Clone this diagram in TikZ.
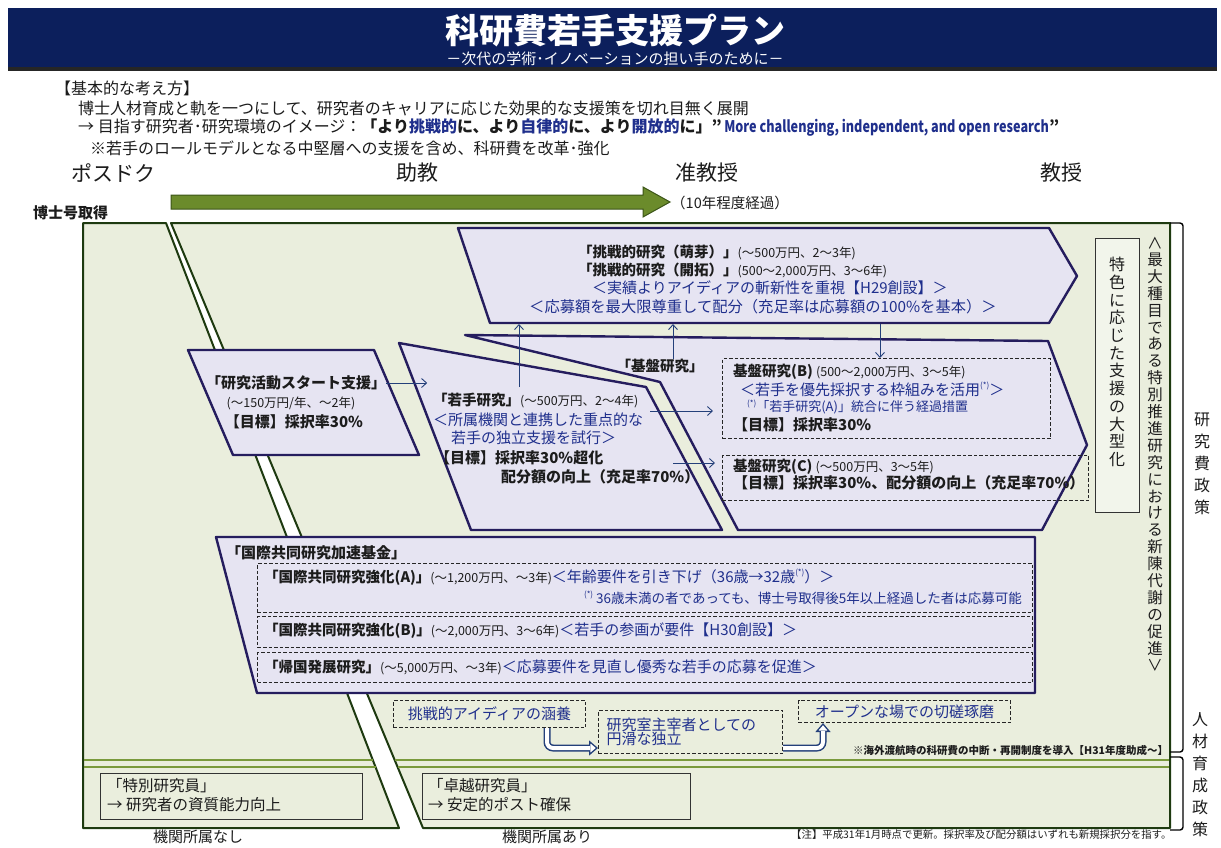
\documentclass[tikz,border=0pt]{standalone}
\usepackage{fontspec}
\setmainfont{Noto Sans CJK JP}
\usetikzlibrary{arrows.meta,calc}
\definecolor{banner}{HTML}{0C1F5C}
\definecolor{lav}{HTML}{E6E4F2}
\definecolor{pborder}{HTML}{251D5E}
\definecolor{bggreen}{HTML}{EAEEDD}
\definecolor{dgreen}{HTML}{1E3A10}
\definecolor{olive}{HTML}{7A9A3C}
\definecolor{arrowgreen}{HTML}{6B8B2B}
\definecolor{arrowedge}{HTML}{3C5518}
\definecolor{navytext}{HTML}{1F2F8C}
\definecolor{txt}{HTML}{1C1C1C}
\definecolor{arrnavy}{HTML}{24407A}
\newcommand{\fz}[1]{\fontsize{#1}{#1}\selectfont}
\newcommand{\hb}[1]{{\bfseries #1}}
\newcommand{\ps}[1]{{\fz{12.5}#1}}
\newcommand{\nv}[1]{{\color{navytext}#1}}
\newcommand{\supast}{\raisebox{0.45em}{\fz{8}(*)}}
\newcommand{\vbr}[1]{\rotatebox[origin=c]{-90}{#1}}
\tikzset{
  lbl/.style={anchor=west, inner sep=0pt, text=txt},
  pshape/.style={draw=pborder, line width=2.4pt, fill=lav, line join=round},
  panel/.style={draw=dgreen, line width=2pt, fill=bggreen, line join=round},
  dbox/.style={draw=black!85, line width=1pt, dash pattern=on 3.5pt off 2pt, inner sep=0pt},
  sbox/.style={draw=black!80, line width=0.9pt, inner sep=0pt},
  gline/.style={draw=olive, line width=2.5pt},
  thinarr/.style={draw=arrnavy, line width=0.9pt, -{Straight Barb[length=5pt,width=9pt]}},
  vtxt/.style={align=center, inner sep=0pt, text=txt},
  blockarr/.style={draw=arrnavy, line width=7pt, rounded corners=6pt, -{Triangle[length=9pt,width=15pt,fill=white,line width=1.3pt]}},
  blockin/.style={draw=white, line width=4pt, rounded corners=6pt, shorten >=8pt},
}
\begin{document}
\begin{tikzpicture}[x=1pt,y=-1pt]
\useasboundingbox (0,0) rectangle (1221,847);
\fill[white] (0,0) rectangle (1221,847);
% banner
\fill[banner] (8,8) rectangle (1217,70);
\fill[black!85] (8,67) rectangle (1217,71);
\node[text=white] (title) at (615,31) {\fz{34}\bfseries 科研費若手支援プラン};
\node[text=white] (subtitle) at (615,59) {\fz{15}－次代の学術･イノベーションの担い手のために－};
% header
\node[lbl] (h1) at (55,88) {\fz{16}【基本的な考え方】};
\node[lbl] (h2) at (78,108) {\fz{16}博士人材育成と軌を一つにして、研究者のキャリアに応じた効果的な支援策を切れ目無く展開};
\node[lbl] (h3) at (78,128) {\fz{16}→\ 目指す研究者･研究環境のイメージ：\hb{「より\nv{挑戦的}に、より\nv{自律的}に、より\nv{開放的}に」}\hb{”}\,\scalebox{0.79}[1]{\nv{\bfseries More challenging, independent, and open research}}\hb{”}};
\node[lbl] (h4) at (90,148) {\fz{16}※若手のロールモデルとなる中堅層への支援を含め、科研費を改革･強化};
% stages
\node[text=txt] (pd) at (113,173) {\fz{21}ポスドク};
\node[text=txt] (jk) at (417,173) {\fz{21}助教};
\node[text=txt] (jkj) at (707,173) {\fz{21}准教授};
\node[text=txt] (kj) at (1061,173) {\fz{21}教授};
\node[lbl] (hakushi) at (33,213) {\fz{15}\bfseries 博士号取得};
\filldraw[fill=arrowgreen, draw=arrowedge, line width=1pt] (171,195) -- (643,195) -- (643,187) -- (670,202) -- (643,217) -- (643,209) -- (171,209) -- cycle;
\node[lbl] (ten) at (671,203) {\fz{14.5}（10年程度経過）};
% panels
\path[panel] (83,223) -- (166,223) -- (399,828) -- (83,828) -- cycle;
\path[panel] (171,223) -- (1170,223) -- (1170,828) -- (423,828) -- cycle;
\draw[gline] (84,760) -- (373,760);
\draw[gline] (84,767) -- (376,767);
\draw[gline] (395,760) -- (1169,760);
\draw[gline] (398,767) -- (1169,767);
% brackets
\draw[black, line width=1.4pt, rounded corners=3pt] (1170,223) -- (1183,223) -- (1183,752) -- (1170,752);
\draw[black, line width=1.4pt, rounded corners=3pt] (1170,757) -- (1183,757) -- (1183,830) -- (1170,830);
% shapes
\path[pshape] (458,228) -- (1049,228) -- (1077,276) -- (1049,323) -- (490,323) -- cycle;
\path[pshape] (465,335) -- (1048,341) -- (1087,445) -- (1042,530) -- (738,530) -- (660,382) -- cycle;
\path[pshape] (399,343) -- (646,387) -- (722,530) -- (471,530) -- cycle;
\path[pshape] (188,350) -- (374,350) -- (419,455) -- (233,455) -- cycle;
\path[pshape] (216,537) -- (1035,537) -- (1035,693) -- (257,693) -- cycle;
% challenge text
\node[lbl] (ch1) at (578,252) {\fz{14.5}\hb{「挑戦的研究（萌芽）」}\ps{(～500万円、2～3年)}};
\node[lbl] (ch2) at (578,270) {\fz{14.5}\hb{「挑戦的研究（開拓）」}\ps{(500～2,000万円、3～6年)}};
\node[lbl, text=navytext] (ch3) at (592,288) {\fz{15}＜実績よりアイディアの斬新性を重視【H29創設】＞};
\node[lbl, text=navytext] (ch4) at (529,307) {\fz{15.3}＜応募額を最大限尊重して配分（充足率は応募額の100\%を基本）＞};
% start support
\node[text=txt, inner sep=0pt] (sk1) at (296,383) {\fz{15}\bfseries 「研究活動スタート支援」};
\node[text=txt, inner sep=0pt] (sk2) at (291,403) {\fz{12.5}(～150万円/年、～2年)};
\node[text=txt, inner sep=0pt] (sk3) at (294,422) {\fz{15}\bfseries 【目標】採択率30\%};
% wakate
\node[lbl] (wk1) at (433,400) {\fz{14.5}\hb{「若手研究」}\ps{(～500万円、2～4年)}};
\node[lbl, text=navytext] (wk2) at (433,420) {\fz{15}＜所属機関と連携した重点的な};
\node[lbl, text=navytext] (wk3) at (451,438) {\fz{15}若手の独立支援を試行＞};
\node[lbl] (wk4) at (435,458) {\fz{15}\bfseries 【目標】採択率30\%超化};
\node[lbl] (wk5) at (501,477) {\fz{15}\bfseries 配分額の向上（充足率70\%）};
% kiban
\node[text=txt, inner sep=0pt] (kbl) at (660,366) {\fz{14.5}\bfseries 「基盤研究」};
\node[dbox, anchor=north west, minimum width=328pt, minimum height=80pt] (kB) at (722,358) {};
\node[lbl] (kb1) at (733,372) {\fz{14.5}\hb{基盤研究(B)}\ \ps{(500～2,000万円、3～5年)}};
\node[lbl, text=navytext] (kb2) at (740,389) {\fz{15}＜若手を優先採択する枠組みを活用\supast＞};
\node[lbl, text=navytext] (kb3) at (747,407) {\fz{13}\supast「若手研究(A)」統合に伴う経過措置};
\node[lbl] (kb4) at (733,425) {\fz{15}\bfseries 【目標】採択率30\%};
\node[dbox, anchor=north west, minimum width=366pt, minimum height=45pt] (kC) at (722,455) {};
\node[lbl] (kc1) at (733,467) {\fz{14.5}\hb{基盤研究(C)}\ \ps{(～500万円、3～5年)}};
\node[lbl] (kc2) at (733,483) {\fz{15}\bfseries 【目標】採択率30\%、配分額の向上（充足率70\%）};
% international
\node[lbl] (kk0) at (226,553) {\fz{15}\bfseries 「国際共同研究加速基金」};
\node[dbox, anchor=north west, minimum width=775pt, minimum height=49pt] (kA) at (257,563) {};
\node[lbl] (ka1) at (264,577) {\fz{14.5}\hb{「国際共同研究強化(A)」}\ps{(～1,200万円、～3年)}\nv{\fz{15}＜年齢要件を引き下げ（36歳→32歳\supast）＞}};
\node[inner sep=0pt, anchor=east, text=navytext] (ka2) at (1022,598) {\fz{13.5}\supast\ 36歳未満の者であっても、博士号取得後5年以上経過した者は応募可能};
\node[dbox, anchor=north west, minimum width=775pt, minimum height=31pt] (kBB) at (257,616) {};
\node[lbl] (kbb1) at (264,631) {\fz{14.5}\hb{「国際共同研究強化(B)」}\ps{(～2,000万円、3～6年)}\nv{\fz{15}＜若手の参画が要件【H30創設】＞}};
\node[dbox, anchor=north west, minimum width=775pt, minimum height=30pt] (kCC) at (257,652) {};
\node[lbl] (kcc1) at (264,667) {\fz{14.5}\hb{「帰国発展研究」}\ps{(～5,000万円、～3年)}\nv{\fz{15}＜応募要件を見直し優秀な若手の応募を促進＞}};
% bottom boxes
\node[dbox, anchor=north west, minimum width=192pt, minimum height=27pt, text=navytext] (b1) at (393,700) {\fz{15}挑戦的アイディアの涵養};
\node[dbox, anchor=north west, minimum width=184pt, minimum height=43pt, text=navytext, align=left, text width=168pt, inner xsep=8pt, font=\fontsize{15}{14}\selectfont] (b2) at (598,710) {研究室主宰者としての\\円滑な独立};
\node[dbox, anchor=north west, minimum width=212pt, minimum height=22pt, text=navytext] (b3) at (798,700) {\fz{15}オープンな場での切磋琢磨};
\coordinate (a1s) at ($(b1.south west)+(154,0)$);
\coordinate (a1e) at ($(b2.south west)+(0,-6)$);
\coordinate (a2s) at ($(b2.south east)+(0,-6)$);
\coordinate (a2e) at ($(b3.south west)+(25,0)$);
\draw[blockarr] (a1s) |- (a1e);
\draw[blockin] (a1s) |- (a1e);
\draw[blockarr] (a2s) -| (a2e);
\draw[blockin] (a2s) -| (a2e);
\node[lbl] (note1) at (853,750) {\fz{10.5}\bfseries ※海外渡航時の科研費の中断・再開制度を導入【H31年度助成～】};
% bottom panels
\node[sbox, anchor=north west, minimum width=262pt, minimum height=46pt] (tb) at (100,773) {};
\node[lbl] (tb1) at (107,786) {\fz{15.5}「特別研究員」};
\node[lbl] (tb2) at (107,805) {\fz{15.5}→\ 研究者の資質能力向上};
\node[sbox, anchor=north west, minimum width=268pt, minimum height=46pt] (tk) at (422,773) {};
\node[lbl] (tk1) at (428,786) {\fz{15.5}「卓越研究員」};
\node[lbl] (tk2) at (428,805) {\fz{15.5}→\ 安定的ポスト確保};
\node[text=txt] (nashi) at (198,837) {\fz{15}機関所属なし};
\node[text=txt] (ari) at (547,837) {\fz{15}機関所属あり};
\node[lbl] (chu) at (791,835) {\fz{10.4}【注】平成31年1月時点で更新。採択率及び配分額はいずれも新規採択分を指す。};
% right side vertical
\node[sbox, anchor=north west, minimum width=44pt, minimum height=274pt, fill=bggreen!60!white] (tokbox) at (1095,238) {};
\node[vtxt, font=\fontsize{16}{17.7}\selectfont] (tok) at (1117,362) {特\\色\\に\\応\\じ\\た\\支\\援\\の\\大\\型\\化};
\node[vtxt, font=\fontsize{15.5}{16.9}\selectfont] (saidai) at (1155,454) {\vbr{＜}\\最\\大\\種\\目\\で\\あ\\る\\特\\別\\推\\進\\研\\究\\に\\お\\け\\る\\新\\陳\\代\\謝\\の\\促\\進\\\vbr{＞}};
\node[vtxt, font=\fontsize{16}{22}\selectfont] (kenkyuhi) at (1202,464) {研\\究\\費\\政\\策};
\node[vtxt, font=\fontsize{16}{22}\selectfont] (jinzai) at (1200,775) {人\\材\\育\\成\\政\\策};
% thin arrows
\coordinate (chb1) at (519,324);
\coordinate (wkup) at (519,387);
\coordinate (chb2) at (673,324);
\coordinate (chb3) at (880,324);
\draw[thinarr] (sk1.east) -- ($(sk1.east)+(41,0)$);
\draw[thinarr] (wkup) -- (chb1);
\draw[thinarr] (kbl.north -| chb2) -- (chb2);
\draw[thinarr] (chb3) -- (chb3 |- kB.north);
\coordinate (wkr1) at (650,411);
\coordinate (wkr2) at (673,463);
\draw[thinarr] (wkr1) -- ($(kB.west |- wkr1)+(-9,0)$);
\draw[thinarr] (wkr2) -- ($(kC.west |- wkr2)+(-7,0)$);
\end{tikzpicture}
\end{document}
